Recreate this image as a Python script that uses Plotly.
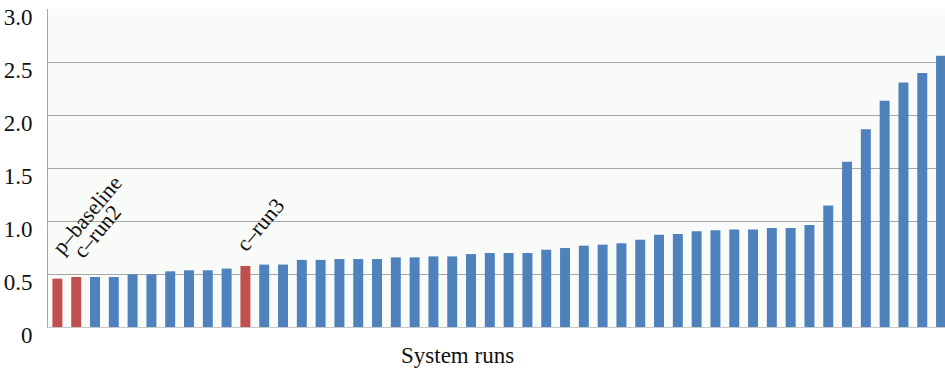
import plotly.graph_objects as go

# Data (sorted system runs)
run_values = [0.456, 0.472, 0.472, 0.472, 0.497, 0.497, 0.525, 0.535, 0.535, 0.551,
              0.576, 0.589, 0.589, 0.633, 0.633, 0.641, 0.641, 0.641, 0.657, 0.657,
              0.666, 0.666, 0.688, 0.698, 0.698, 0.698, 0.729, 0.745, 0.767, 0.777,
              0.790, 0.824, 0.871, 0.878, 0.903, 0.912, 0.919, 0.919, 0.934, 0.934,
              0.963, 1.146, 1.559, 1.866, 2.134, 2.307, 2.396, 2.560]
run_ids = list(range(len(run_values)))
highlight_ids = [0, 1, 10]
highlight_labels = ["p–baseline", "c–run2", "c–run3"]
label_shifts = [(30, 64), (21, 45), (15, 41)]
y_tickvals = [0, 0.5, 1.0, 1.5, 2.0, 2.5, 3.0]
y_ticktext = ["0", "0.5", "1.0", "1.5", "2.0", "2.5", "3.0"]
x_title = "System runs"

BLUE = "#4f81bd"
RED = "#c0504d"
colors = [RED if i in highlight_ids else BLUE for i in run_ids]

fig = go.Figure()
fig.add_trace(go.Bar(
    x=run_ids, y=run_values,
    marker=dict(color=colors, line=dict(width=0)),
    hoverinfo="y",
))

font_family = "Liberation Serif, Times New Roman, serif"

annotations = []
for idx, lab, (dx, dy) in zip(highlight_ids, highlight_labels, label_shifts):
    annotations.append(dict(
        x=idx, y=run_values[idx], xref="x", yref="y",
        text=lab, showarrow=False, textangle=-50,
        xanchor="center", yanchor="middle",
        xshift=dx, yshift=dy,
        font=dict(family=font_family, size=22, color="#111111"),
    ))
annotations.append(dict(
    x=0.456, y=-0.045, xref="paper", yref="paper",
    text=x_title, showarrow=False, xanchor="center", yanchor="top",
    font=dict(family=font_family, size=23, color="#111111"),
))

fig.update_layout(
    width=945, height=370,
    margin=dict(l=48, r=0, t=9, b=43, pad=0),
    paper_bgcolor="white",
    plot_bgcolor="#f9fbf9",
    bargap=0.47,
    showlegend=False,
    annotations=annotations,
    font=dict(family=font_family, size=23, color="#111111"),
)
fig.update_xaxes(
    range=[-0.5, 47.21], showticklabels=False, ticks="",
    showgrid=False, zeroline=False, automargin=False,
    showline=True, linecolor="#c8c8c8", linewidth=1,
)
fig.update_yaxes(
    range=[0, 3.0], tickvals=y_tickvals, ticktext=y_ticktext,
    ticks="", showgrid=True, gridcolor="#a6a6a6", gridwidth=1,
    zeroline=False, showline=True, linecolor="#a6a6a6", linewidth=1,
    automargin=False, ticklabeloverflow="allow",
    ticklabelstandoff=10, ticklabelshift=8,
    tickfont=dict(family=font_family, size=23, color="#111111"),
)

fig.write_html(
    "out.html",
    config={"displayModeBar": False},
    post_script="document.body.style.margin='0';document.body.style.overflow='hidden';",
)
